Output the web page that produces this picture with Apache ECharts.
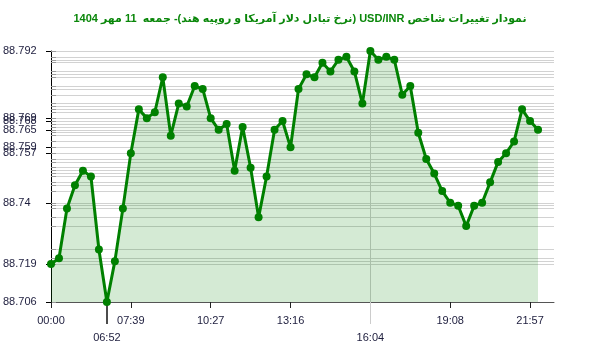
<!DOCTYPE html>
<html><head><meta charset="utf-8">
<script src="https://cdn.jsdelivr.net/npm/echarts@6/dist/echarts.min.js"></script>
<style>html,body{margin:0;padding:0;background:#fff}#c{width:600px;height:352px}</style>
</head><body><div id="c"></div>
<script>
const titleText = 'نمودار تغییرات شاخص USD/INR (نرخ تبادل دلار آمریکا و روپیه هند)- جمعه  11 مهر 1404';
const times = ['00:00','05:11','05:28','05:45','06:01','06:18','06:35','06:52','07:08','07:23',
  '07:39','07:56','08:13','08:30','08:47','09:03','09:20','09:37','09:54','10:10',
  '10:27','10:44','11:01','11:18','11:35','11:52','12:08','12:25','12:42','12:59',
  '13:16','13:33','13:50','14:06','14:23','14:40','14:57','15:14','15:30','15:47',
  '16:04','16:22','16:41','16:59','17:18','17:36','17:54','18:13','18:31','18:50',
  '19:08','19:25','19:42','19:59','20:16','20:33','20:50','21:06','21:23','21:40',
  '21:57','22:14','',''];
const values = [88.719,88.721,88.738,88.746,88.751,88.749,88.724,88.706,88.720,88.738,
  88.757,88.772,88.769,88.771,88.783,88.763,88.774,88.773,88.780,88.779,
  88.769,88.765,88.767,88.751,88.766,88.752,88.735,88.749,88.765,88.768,
  88.759,88.779,88.784,88.783,88.788,88.785,88.789,88.790,88.785,88.774,
  88.792,88.789,88.790,88.789,88.777,88.780,88.764,88.755,88.750,88.744,
  88.740,88.739,88.732,88.739,88.740,88.747,88.754,88.757,88.761,88.772,
  88.768,88.765];
const yLabels = [88.706,88.719,88.74,88.757,88.759,88.765,88.768,88.769,88.792];
const xLabelIdx = [0,10,20,30,50,60];
const minIdx = 7, maxIdx = 40;
const yMin = 88.706, yMax = 88.792;

const gridValues = Array.from(new Set(values)).sort((a,b)=>a-b);
const chart = echarts.init(document.getElementById('c'));
const lblFont = {fontFamily:'Liberation Sans, Arial, sans-serif', fontSize:11, color:'#1c1c3c'};
chart.setOption({
  animation:false,
  title:{text:'\u202B' + titleText + '\u202C',left:'center',top:8,textStyle:{fontSize:11,fontWeight:'bold',color:'#0a870a',fontFamily:'Liberation Sans, DejaVu Sans, sans-serif'}},
  grid:{left:50,right:46,top:51,bottom:50,containLabel:false},
  xAxis:[
    {type:'category',data:times,boundaryGap:false,position:'bottom',
     axisLine:{lineStyle:{color:'#555',width:1}},
     axisTick:{interval:(i)=>xLabelIdx.includes(i),length:6,lineStyle:{color:'#222'}},
     axisLabel:Object.assign({interval:(i)=>xLabelIdx.includes(i),margin:13},lblFont),
     splitLine:{show:false}},
    {type:'category',data:times,boundaryGap:false,position:'bottom',
     axisLine:{show:false},
     axisTick:{interval:(i)=>i===minIdx,length:22,lineStyle:{color:'#111',width:1.5}},
     axisLabel:Object.assign({interval:(i)=>i===minIdx,margin:30},lblFont),
     splitLine:{show:false}},
    {type:'category',data:times,boundaryGap:false,position:'bottom',
     axisLine:{show:false},
     axisTick:{interval:(i)=>i===maxIdx,length:22,lineStyle:{color:'#ccc',width:1}},
     axisLabel:Object.assign({interval:(i)=>i===maxIdx,margin:30},lblFont),
     splitLine:{show:true,interval:(i)=>i===maxIdx,lineStyle:{color:'#ccc',width:1}}}
  ],
  yAxis:[
    {type:'value',min:yMin,max:yMax,position:'left',
     axisLine:{show:true,lineStyle:{color:'#000',width:1}},
     axisTick:{show:true,customValues:yLabels,length:5,lineStyle:{color:'#000'}},
     axisLabel:Object.assign({customValues:yLabels,align:'left',margin:48,formatter:(v)=>String(+v.toFixed(3))},lblFont),
     splitLine:{show:false}},
    {type:'value',min:yMin,max:yMax,position:'left',
     axisLine:{show:false},
     axisTick:{show:true,inside:true,customValues:gridValues,length:5,lineStyle:{color:'#999'}},
     axisLabel:{show:false},
     splitLine:{show:true,lineStyle:{color:'#d2d2d2',width:1}}}
  ],
  series:[{type:'line',data:values,xAxisIndex:0,yAxisIndex:0,
    symbol:'circle',symbolSize:8,showAllSymbol:true,
    lineStyle:{color:'#008000',width:3},itemStyle:{color:'#008000'},
    areaStyle:{color:'rgba(0,128,0,0.24)',origin:'start'}}]
});
</script></body></html>
